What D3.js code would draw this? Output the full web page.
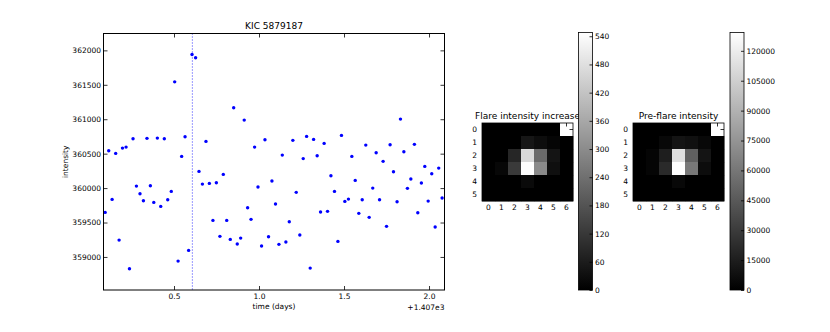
<!DOCTYPE html>
<html>
<head>
<meta charset="utf-8">
<script src="https://cdn.jsdelivr.net/npm/d3@7"></script>
<style>
  body { margin: 0; background: #fff; }
  svg text { font-family: "DejaVu Sans", sans-serif; }
</style>
</head>
<body>
<div id="chart"></div>
<script>
// time offset from 1407 days
const times = [
  0.095, 0.116, 0.136, 0.157, 0.177, 0.197, 0.218, 0.238, 0.259, 0.279,
  0.300, 0.320, 0.341, 0.361, 0.381, 0.402, 0.422, 0.443, 0.463, 0.484,
  0.504, 0.524, 0.545, 0.565, 0.586, 0.606, 0.627, 0.647, 0.667, 0.688,
  0.708, 0.729, 0.749, 0.770, 0.790, 0.810, 0.831, 0.851, 0.872, 0.892,
  0.913, 0.933, 0.953, 0.974, 0.994, 1.015, 1.035, 1.056, 1.076, 1.097,
  1.117, 1.137, 1.158, 1.178, 1.199, 1.219, 1.240, 1.260, 1.280, 1.301,
  1.321, 1.342, 1.362, 1.383, 1.403, 1.423, 1.444, 1.464, 1.485, 1.505,
  1.526, 1.546, 1.566, 1.587, 1.607, 1.628, 1.648, 1.669, 1.689, 1.709,
  1.730, 1.750, 1.771, 1.791, 1.812, 1.832, 1.852, 1.873, 1.893, 1.914,
  1.934, 1.955, 1.975, 1.995, 2.016, 2.036, 2.057, 2.077
];
const intensity = [
  359647, 360542, 359836, 360504, 359245, 360581, 360595, 358828, 360716, 360029,
  359917, 359816, 360722, 360033, 359792, 360726, 359734, 360716, 359830, 359952,
  361543, 358940, 360460, 360745, 359095, 361941, 361892, 360242, 360058, 360678,
  360068, 359531, 360077, 359299, 360199, 359531, 359255, 361166, 359187, 359274,
  360987, 359714, 359546, 360595, 360015, 359158, 360701, 359293, 360102, 359768,
  359183, 360479, 359216, 359511, 360693, 359938, 359318, 360428, 360751, 358838,
  360707, 360469, 359652, 360649, 359662, 360179, 359952, 359226, 360765, 359807,
  359840, 360460, 360112, 359633, 359830, 360624, 359575, 360000, 360513, 359830,
  360388, 359444, 360629, 360237, 359801, 361002, 360527, 359996, 360131, 360635,
  359641, 360073, 360315, 359811, 360208, 359434, 360290, 359855
];
const flareTime = 0.608;
const timeTicks = [0.5, 1.0, 1.5, 2.0];
const timeTickLabels = ["0.5", "1.0", "1.5", "2.0"];
const intensityTicks = [359000, 359500, 360000, 360500, 361000, 361500, 362000];

const flareIncrease = [
  [0, 0, 0, 0, 0, 0, 548],
  [0, 0, 0, 47, 27, 11, 0],
  [0, 0, 82, 465, 228, 43, 0],
  [0, 16, 125, 545, 296, 33, 0],
  [0, 0, 0, 22, 0, 0, 0],
  [0, 0, 0, 0, 0, 0, 0]
];
const preFlare = [
  [0, 0, 0, 0, 0, 0, 129200],
  [0, 0, 4000, 10000, 8000, 4000, 0],
  [0, 2500, 15200, 113000, 48600, 10100, 0],
  [0, 2500, 21300, 128500, 60800, 6100, 0],
  [0, 0, 0, 4000, 0, 0, 0],
  [0, 0, 0, 0, 0, 0, 0]
];
const flareMax = 548;
const preMax = 129200;
const flareBarTicks = [0, 60, 120, 180, 240, 300, 360, 420, 480, 540];
const preBarTicks = [0, 15000, 30000, 45000, 60000, 75000, 90000, 105000, 120000];

const W = 830, H = 332;
const fs = 7.5;

const svg = d3.select("#chart").append("svg")
  .attr("width", W).attr("height", H);

const defs = svg.append("defs");
const grad = defs.append("linearGradient")
  .attr("id", "grayBar")
  .attr("x1", 0).attr("y1", 1).attr("x2", 0).attr("y2", 0);
grad.append("stop").attr("offset", 0).attr("stop-color", "#000");
grad.append("stop").attr("offset", 1).attr("stop-color", "#fff");

// ---- light curve scatter ----
const plot = { left: 103.5, right: 444.5, top: 33.5, bottom: 290 };
const x = d3.scaleLinear().domain([0.0853, 2.091]).range([plot.left, plot.right]);
const y = d3.scaleLinear().domain([358520, 362245]).range([plot.bottom, plot.top]);

function styleAxis(g) {
  g.select(".domain").remove();
  g.selectAll(".tick line").attr("stroke", "#000").attr("stroke-width", 0.8);
  g.selectAll("text").attr("font-size", fs).attr("font-family", "DejaVu Sans").attr("fill", "#000");
}

svg.append("g")
  .attr("transform", `translate(0,${plot.bottom})`)
  .call(d3.axisBottom(x).tickValues(timeTicks).tickSize(-4).tickPadding(4)
    .tickFormat((d, i) => timeTickLabels[i]))
  .call(styleAxis);
svg.append("g")
  .attr("transform", `translate(0,${plot.top})`)
  .call(d3.axisTop(x).tickValues(timeTicks).tickSize(-4).tickFormat(""))
  .call(styleAxis);
svg.append("g")
  .attr("transform", `translate(${plot.left},0)`)
  .call(d3.axisLeft(y).tickValues(intensityTicks).tickSize(-4).tickPadding(2.5)
    .tickFormat(d3.format("d")))
  .call(styleAxis);
svg.append("g")
  .attr("transform", `translate(${plot.right},0)`)
  .call(d3.axisRight(y).tickValues(intensityTicks).tickSize(-4).tickFormat(""))
  .call(styleAxis);

// flare marker
svg.append("line")
  .attr("x1", x(flareTime)).attr("x2", x(flareTime))
  .attr("y1", plot.top).attr("y2", plot.bottom)
  .attr("stroke", "#0000ff").attr("stroke-width", 0.8)
  .attr("stroke-dasharray", "1,2");

svg.append("g")
  .selectAll("circle")
  .data(times)
  .join("circle")
  .attr("cx", (d) => x(d))
  .attr("cy", (d, i) => y(intensity[i]))
  .attr("r", 1.7)
  .attr("fill", "#0000ff");

svg.append("rect")
  .attr("x", plot.left).attr("y", plot.top)
  .attr("width", plot.right - plot.left).attr("height", plot.bottom - plot.top)
  .attr("fill", "none").attr("stroke", "#000").attr("stroke-width", 1);

svg.append("text")
  .attr("x", (plot.left + plot.right) / 2).attr("y", 29)
  .attr("text-anchor", "middle").attr("font-size", 9)
  .text("KIC 5879187");
svg.append("text")
  .attr("x", (plot.left + plot.right) / 2).attr("y", 308.5)
  .attr("text-anchor", "middle").attr("font-size", fs)
  .text("time (days)");
svg.append("text")
  .attr("x", plot.right).attr("y", 309.5)
  .attr("text-anchor", "end").attr("font-size", fs)
  .text("+1.407e3");
svg.append("text")
  .attr("transform", `translate(67.5,${(plot.top + plot.bottom) / 2}) rotate(-90)`)
  .attr("text-anchor", "middle").attr("font-size", fs)
  .text("intensity");

// ---- pixel images with colorbars ----
function pixelPanel(opts) {
  const { data, vmax, left, title, barLeft, barTicks } = opts;
  const top = 123, cell = 13;
  const nRows = data.length, nCols = data[0].length;
  const cols = d3.range(nCols), rows = d3.range(nRows);
  const bx = d3.scaleBand().domain(cols).range([left, left + cell * nCols]);
  const by = d3.scaleBand().domain(rows).range([top, top + cell * nRows]);
  const gray = d3.scaleLinear().domain([0, vmax]).range(["#000", "#fff"]).clamp(true);

  const g = svg.append("g");
  g.append("text")
    .attr("x", left + cell * nCols / 2).attr("y", 119)
    .attr("text-anchor", "middle").attr("font-size", 9)
    .text(title);

  const cells = [];
  data.forEach((row, r) => row.forEach((v, c) => cells.push({ r, c, v })));
  g.append("g").selectAll("rect")
    .data(cells)
    .join("rect")
    .attr("x", (d) => bx(d.c)).attr("y", (d) => by(d.r))
    .attr("width", bx.bandwidth() + 0.3).attr("height", by.bandwidth() + 0.3)
    .attr("fill", (d) => gray(d.v));

  const xc = (d) => bx(d) + bx.bandwidth() / 2;
  const yc = (d) => by(d) + by.bandwidth() / 2;
  const bottom = top + cell * nRows, right = left + cell * nCols;

  // ticks on all four sides, pointing in
  const tk = g.append("g").attr("stroke", "#000").attr("stroke-width", 0.8);
  cols.forEach((c) => {
    tk.append("line").attr("x1", xc(c)).attr("x2", xc(c)).attr("y1", top).attr("y2", top + 3.5);
    tk.append("line").attr("x1", xc(c)).attr("x2", xc(c)).attr("y1", bottom).attr("y2", bottom - 3.5);
  });
  rows.forEach((r) => {
    tk.append("line").attr("y1", yc(r)).attr("y2", yc(r)).attr("x1", left).attr("x2", left + 3.5);
    tk.append("line").attr("y1", yc(r)).attr("y2", yc(r)).attr("x1", right).attr("x2", right - 3.5);
  });

  g.append("g").selectAll("text")
    .data(cols).join("text")
    .attr("x", xc).attr("y", bottom + 8.5)
    .attr("text-anchor", "middle").attr("font-size", fs)
    .text((d) => d);
  g.append("g").selectAll("text")
    .data(rows).join("text")
    .attr("x", left - 5).attr("y", yc).attr("dy", "0.35em")
    .attr("text-anchor", "end").attr("font-size", fs)
    .text((d) => d);

  g.append("rect")
    .attr("x", left).attr("y", top)
    .attr("width", cell * nCols).attr("height", cell * nRows)
    .attr("fill", "none").attr("stroke", "#000").attr("stroke-width", 0.8);

  // colorbar
  const barTop = 32.5, barBottom = 290, barW = 14;
  const cb = d3.scaleLinear().domain([0, vmax]).range([barBottom, barTop]);
  const bg = svg.append("g");
  bg.append("rect")
    .attr("x", barLeft).attr("y", barTop)
    .attr("width", barW).attr("height", barBottom - barTop)
    .attr("fill", "url(#grayBar)")
    .attr("stroke", "#000").attr("stroke-width", 0.8);
  bg.append("g")
    .attr("transform", `translate(${barLeft + barW},0)`)
    .call(d3.axisRight(cb).tickValues(barTicks).tickSize(-3).tickPadding(2.5)
      .tickFormat(d3.format("d")))
    .call(styleAxis);
}

pixelPanel({
  data: flareIncrease, vmax: flareMax, left: 482,
  title: "Flare intensity increase", barLeft: 578.5, barTicks: flareBarTicks
});
pixelPanel({
  data: preFlare, vmax: preMax, left: 633,
  title: "Pre-flare intensity", barLeft: 730, barTicks: preBarTicks
});
</script>
</body>
</html>
